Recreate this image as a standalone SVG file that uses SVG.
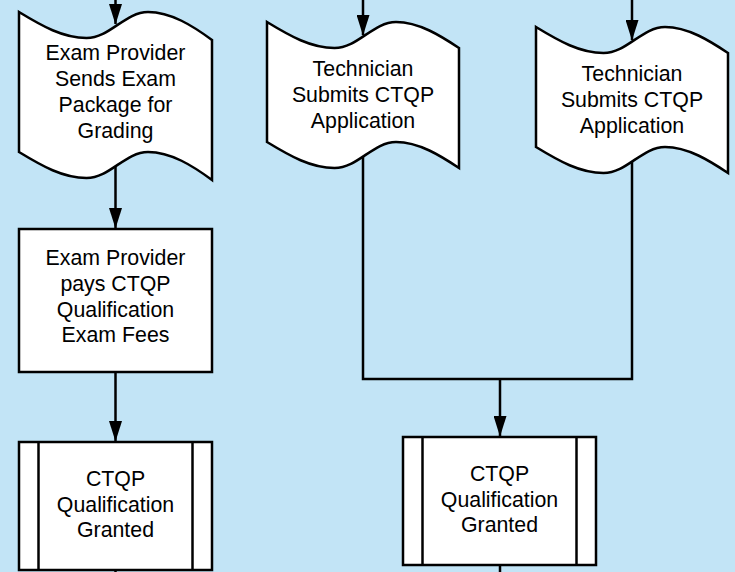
<svg xmlns="http://www.w3.org/2000/svg" width="735" height="572" viewBox="0 0 735 572">
<style>
.shape{fill:#ffffff;stroke:#000000;stroke-width:2.5;stroke-linejoin:miter}
.line{fill:none;stroke:#000000;stroke-width:2.5}
.txt{font-family:"Liberation Sans",Arial,sans-serif;font-size:21.33px;fill:#000000;text-anchor:middle}
</style>
<defs>
<marker id="arrow" markerUnits="userSpaceOnUse" markerWidth="21" markerHeight="13" refX="20" refY="6.5" viewBox="0 0 21 13" orient="auto">
<path d="M0,0 L20.5,6.5 L0,13 Z" fill="#000000"/>
</marker>
</defs>
<rect x="0" y="0" width="735" height="572" fill="#c2e4f6"/>
<g id="connectors">
<line class="line" x1="115.5" y1="0" x2="115.5" y2="24" marker-end="url(#arrow)"/>
<line class="line" x1="363" y1="0" x2="363" y2="35" marker-end="url(#arrow)"/>
<line class="line" x1="632" y1="0" x2="632" y2="40" marker-end="url(#arrow)"/>
<line class="line" x1="115.5" y1="164" x2="115.5" y2="228" marker-end="url(#arrow)"/>
<line class="line" x1="115.5" y1="372" x2="115.5" y2="441" marker-end="url(#arrow)"/>
<line class="line" x1="115.5" y1="570" x2="115.5" y2="574"/>
<polyline class="line" points="363,155 363,379 632,379 632,160"/>
<line class="line" x1="500" y1="379" x2="500" y2="436" marker-end="url(#arrow)"/>
<line class="line" x1="500" y1="565" x2="500" y2="574"/>
</g>
<g id="node-exam-provider-sends">
<path class="shape" transform="translate(19,12)" d="M0,0 C23,14 44,26 67.5,26 C91,26 106,0 129,0 C152,0 174,14 193,28 L193,168 C174,154 152,140 129,140 C106,140 91,166 67.5,166 C44,166 23,154 0,140 Z"/>
<text class="txt" x="115.5" y="60">Exam Provider</text>
<text class="txt" x="115.5" y="86">Sends Exam</text>
<text class="txt" x="115.5" y="112">Package for</text>
<text class="txt" x="115.5" y="138">Grading</text>
</g>
<g id="node-technician-submits-1">
<path class="shape" transform="translate(267,22)" d="M0,0 C23,14 44,26 67.5,26 C91,26 106,0 129,0 C152,0 174,14 192,26 L192,146 C174,134 152,120 129,120 C106,120 91,146 67.5,146 C44,146 23,134 0,120 Z"/>
<text class="txt" x="363" y="76">Technician</text>
<text class="txt" x="363" y="102">Submits CTQP</text>
<text class="txt" x="363" y="128">Application</text>
</g>
<g id="node-technician-submits-2">
<path class="shape" transform="translate(536,27)" d="M0,0 C23,14 44,26 67.5,26 C91,26 106,0 129,0 C152,0 174,14 192,26 L192,146 C174,134 152,120 129,120 C106,120 91,146 67.5,146 C44,146 23,134 0,120 Z"/>
<text class="txt" x="632" y="81">Technician</text>
<text class="txt" x="632" y="107">Submits CTQP</text>
<text class="txt" x="632" y="133">Application</text>
</g>
<g id="node-exam-provider-pays">
<rect class="shape" x="19" y="229" width="193" height="143"/>
<text class="txt" x="115.5" y="265">Exam Provider</text>
<text class="txt" x="115.5" y="291">pays CTQP</text>
<text class="txt" x="115.5" y="317">Qualification</text>
<text class="txt" x="115.5" y="342">Exam Fees</text>
</g>
<g id="node-granted-1">
<rect class="shape" x="19" y="442" width="193" height="128"/>
<line class="line" x1="38.5" y1="442" x2="38.5" y2="570"/>
<line class="line" x1="192.5" y1="442" x2="192.5" y2="570"/>
<text class="txt" x="115.5" y="486">CTQP</text>
<text class="txt" x="115.5" y="512">Qualification</text>
<text class="txt" x="115.5" y="537">Granted</text>
</g>
<g id="node-granted-2">
<rect class="shape" x="403" y="437" width="193" height="128"/>
<line class="line" x1="422.5" y1="437" x2="422.5" y2="565"/>
<line class="line" x1="576.5" y1="437" x2="576.5" y2="565"/>
<text class="txt" x="499.5" y="481">CTQP</text>
<text class="txt" x="499.5" y="507">Qualification</text>
<text class="txt" x="499.5" y="532">Granted</text>
</g>
</svg>
